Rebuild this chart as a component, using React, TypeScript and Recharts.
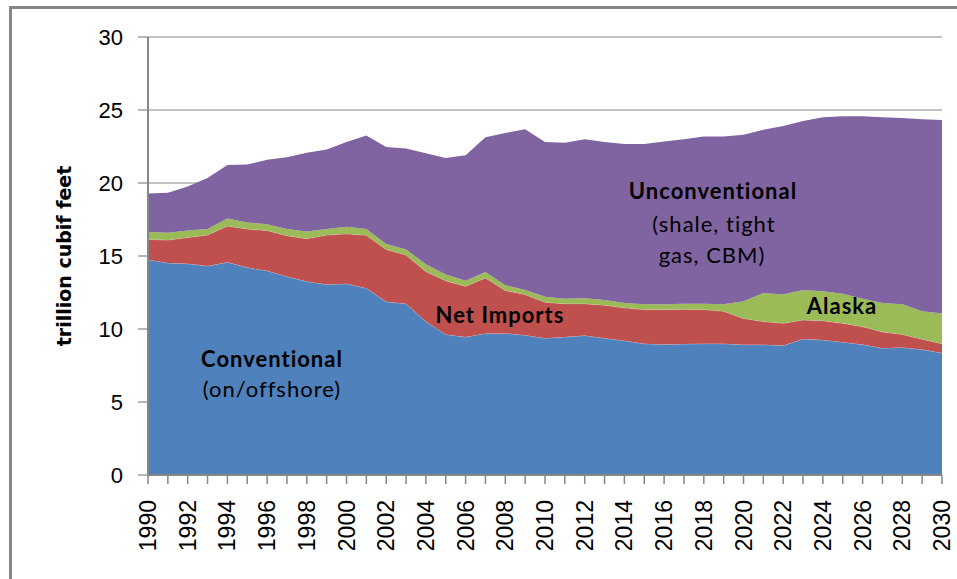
import React from "react";
import { AreaChart, Area, XAxis, YAxis, CartesianGrid } from "recharts";

const years = [
  1990, 1991, 1992, 1993, 1994, 1995, 1996, 1997, 1998, 1999, 2000, 2001, 2002, 2003, 2004, 2005,
  2006, 2007, 2008, 2009, 2010, 2011, 2012, 2013, 2014, 2015, 2016, 2017, 2018, 2019, 2020, 2021,
  2022, 2023, 2024, 2025, 2026, 2027, 2028, 2029, 2030,
];

const conventional = [
  14.75, 14.52, 14.47, 14.31, 14.57, 14.21, 13.99, 13.6, 13.25, 13.05, 13.1, 12.79, 11.86, 11.73,
  10.51, 9.63, 9.45, 9.7, 9.7, 9.58, 9.37, 9.45, 9.55, 9.37, 9.2, 8.99, 8.94, 8.97, 8.99, 8.99,
  8.92, 8.92, 8.87, 9.32, 9.25, 9.1, 8.94, 8.69, 8.74, 8.59, 8.36,
];

const netImports = [
  1.39, 1.57, 1.8, 2.13, 2.48, 2.64, 2.76, 2.79, 2.94, 3.39, 3.42, 3.63, 3.59, 3.34, 3.42, 3.67,
  3.47, 3.8, 2.94, 2.78, 2.46, 2.28, 2.18, 2.26, 2.25, 2.34, 2.39, 2.38, 2.34, 2.23, 1.8, 1.59,
  1.52, 1.3, 1.31, 1.29, 1.22, 1.11, 0.89, 0.71, 0.63,
];

const alaska = [
  0.51, 0.51, 0.48, 0.41, 0.51, 0.45, 0.43, 0.46, 0.48, 0.41, 0.48, 0.43, 0.38, 0.38, 0.51, 0.43,
  0.38, 0.4, 0.36, 0.31, 0.38, 0.35, 0.38, 0.35, 0.33, 0.37, 0.37, 0.38, 0.4, 0.48, 1.18, 1.95,
  1.97, 2.05, 2.03, 2.02, 1.92, 1.98, 2.07, 1.92, 2.08,
];

const unconventional = [
  2.63, 2.73, 3.01, 3.5, 3.67, 3.96, 4.42, 4.91, 5.4, 5.45, 5.8, 6.41, 6.64, 6.92, 7.6, 7.98, 8.6,
  9.23, 10.43, 11.02, 10.59, 10.67, 10.89, 10.82, 10.89, 10.97, 11.15, 11.27, 11.45, 11.48, 11.4,
  11.18, 11.54, 11.58, 11.91, 12.17, 12.5, 12.72, 12.75, 13.15, 13.25,
];

const yTicks = [0, 5, 10, 15, 20, 25, 30];

const data = years.map((year, i) => ({
  year,
  conventional: conventional[i],
  netImports: netImports[i],
  alaska: alaska[i],
  unconventional: unconventional[i],
}));

const AXIS = "#868686";

const XTick = (props: any) => {
  const { x, payload } = props;
  if (payload.value % 2 !== 0) return null;
  const px = x + 8;
  const py = 500;
  return (
    <text
      x={px}
      y={py}
      transform={`rotate(-90, ${px}, ${py})`}
      textAnchor="end"
      fontFamily="'Liberation Sans', Arial, sans-serif"
      fontSize={23}
      fill="#000"
    >
      {payload.value}
    </text>
  );
};

const labelFont = "Lato, 'Noto Sans', sans-serif";

export default function App() {
  return (
    <div
      style={{
        position: "absolute",
        left: 0,
        top: 0,
        width: 957,
        height: 579,
        overflow: "hidden",
        background: "#fff",
      }}
    >
      <div
        style={{
          position: "absolute",
          left: 9,
          top: 6,
          width: 980,
          height: 600,
          border: `3px solid ${AXIS}`,
          boxSizing: "border-box",
        }}
      />
      <div style={{ position: "absolute", left: 0, top: 0 }}>
        <AreaChart
          width={957}
          height={579}
          data={data}
          margin={{ top: 37, right: 15, bottom: 0, left: 0 }}
        >
          <CartesianGrid vertical={false} stroke={AXIS} strokeWidth={1.2} />
          <XAxis
            dataKey="year"
            type="number"
            domain={[1990, 2030]}
            ticks={years}
            interval={0}
            height={104}
            tickSize={9}
            tickLine={{ stroke: AXIS, strokeWidth: 1.5 }}
            axisLine={{ stroke: AXIS, strokeWidth: 2 }}
            tick={<XTick />}
          />
          <YAxis
            type="number"
            domain={[0, 30]}
            ticks={yTicks}
            interval={0}
            width={148}
            tickSize={10}
            tickMargin={15}
            tickLine={{ stroke: AXIS, strokeWidth: 1.2 }}
            axisLine={{ stroke: AXIS, strokeWidth: 2 }}
            tick={{
              fontFamily: "'Liberation Sans', Arial, sans-serif",
              fontSize: 22,
              fill: "#000",
            }}
          />
          <Area
            type="linear"
            dataKey="conventional"
            stackId="1"
            fill="#4F81BD"
            fillOpacity={1}
            stroke="#ffffff"
            strokeWidth={0.6}
            strokeOpacity={0.6}
            isAnimationActive={false}
          />
          <Area
            type="linear"
            dataKey="netImports"
            stackId="1"
            fill="#C0504D"
            fillOpacity={1}
            stroke="#ffffff"
            strokeWidth={0.6}
            strokeOpacity={0.6}
            isAnimationActive={false}
          />
          <Area
            type="linear"
            dataKey="alaska"
            stackId="1"
            fill="#9BBB59"
            fillOpacity={1}
            stroke="none"
            isAnimationActive={false}
          />
          <Area
            type="linear"
            dataKey="unconventional"
            stackId="1"
            fill="#8064A2"
            fillOpacity={1}
            stroke="none"
            isAnimationActive={false}
          />
        </AreaChart>
      </div>
      <svg
        width={957}
        height={579}
        style={{ position: "absolute", left: 0, top: 0, pointerEvents: "none" }}
      >
        <text
          x={71}
          y={256}
          transform="rotate(-90, 71, 256)"
          textAnchor="middle"
          fontFamily="'DejaVu Sans', Verdana, sans-serif"
          fontWeight="bold"
          fontSize={19}
          fill="#000"
        >
          trillion cubif feet
        </text>
        <g fontFamily={labelFont} fontSize={22} fill="#000" textAnchor="middle">
          <text x={272} y={367} fontWeight="bold" letterSpacing={1}>
            Conventional
          </text>
          <text x={272} y={397} letterSpacing={1}>
            (on/offshore)
          </text>
          <text x={500} y={323} fontWeight="bold" letterSpacing={1}>
            Net Imports
          </text>
          <text x={713} y={199} fontWeight="bold" letterSpacing={1}>
            Unconventional
          </text>
          <text x={714} y={232} letterSpacing={1}>
            (shale, tight
          </text>
          <text x={712} y={263} letterSpacing={1}>
            gas, CBM)
          </text>
          <text x={842} y={314} fontWeight="bold" letterSpacing={1}>
            Alaska
          </text>
        </g>
      </svg>
    </div>
  );
}
